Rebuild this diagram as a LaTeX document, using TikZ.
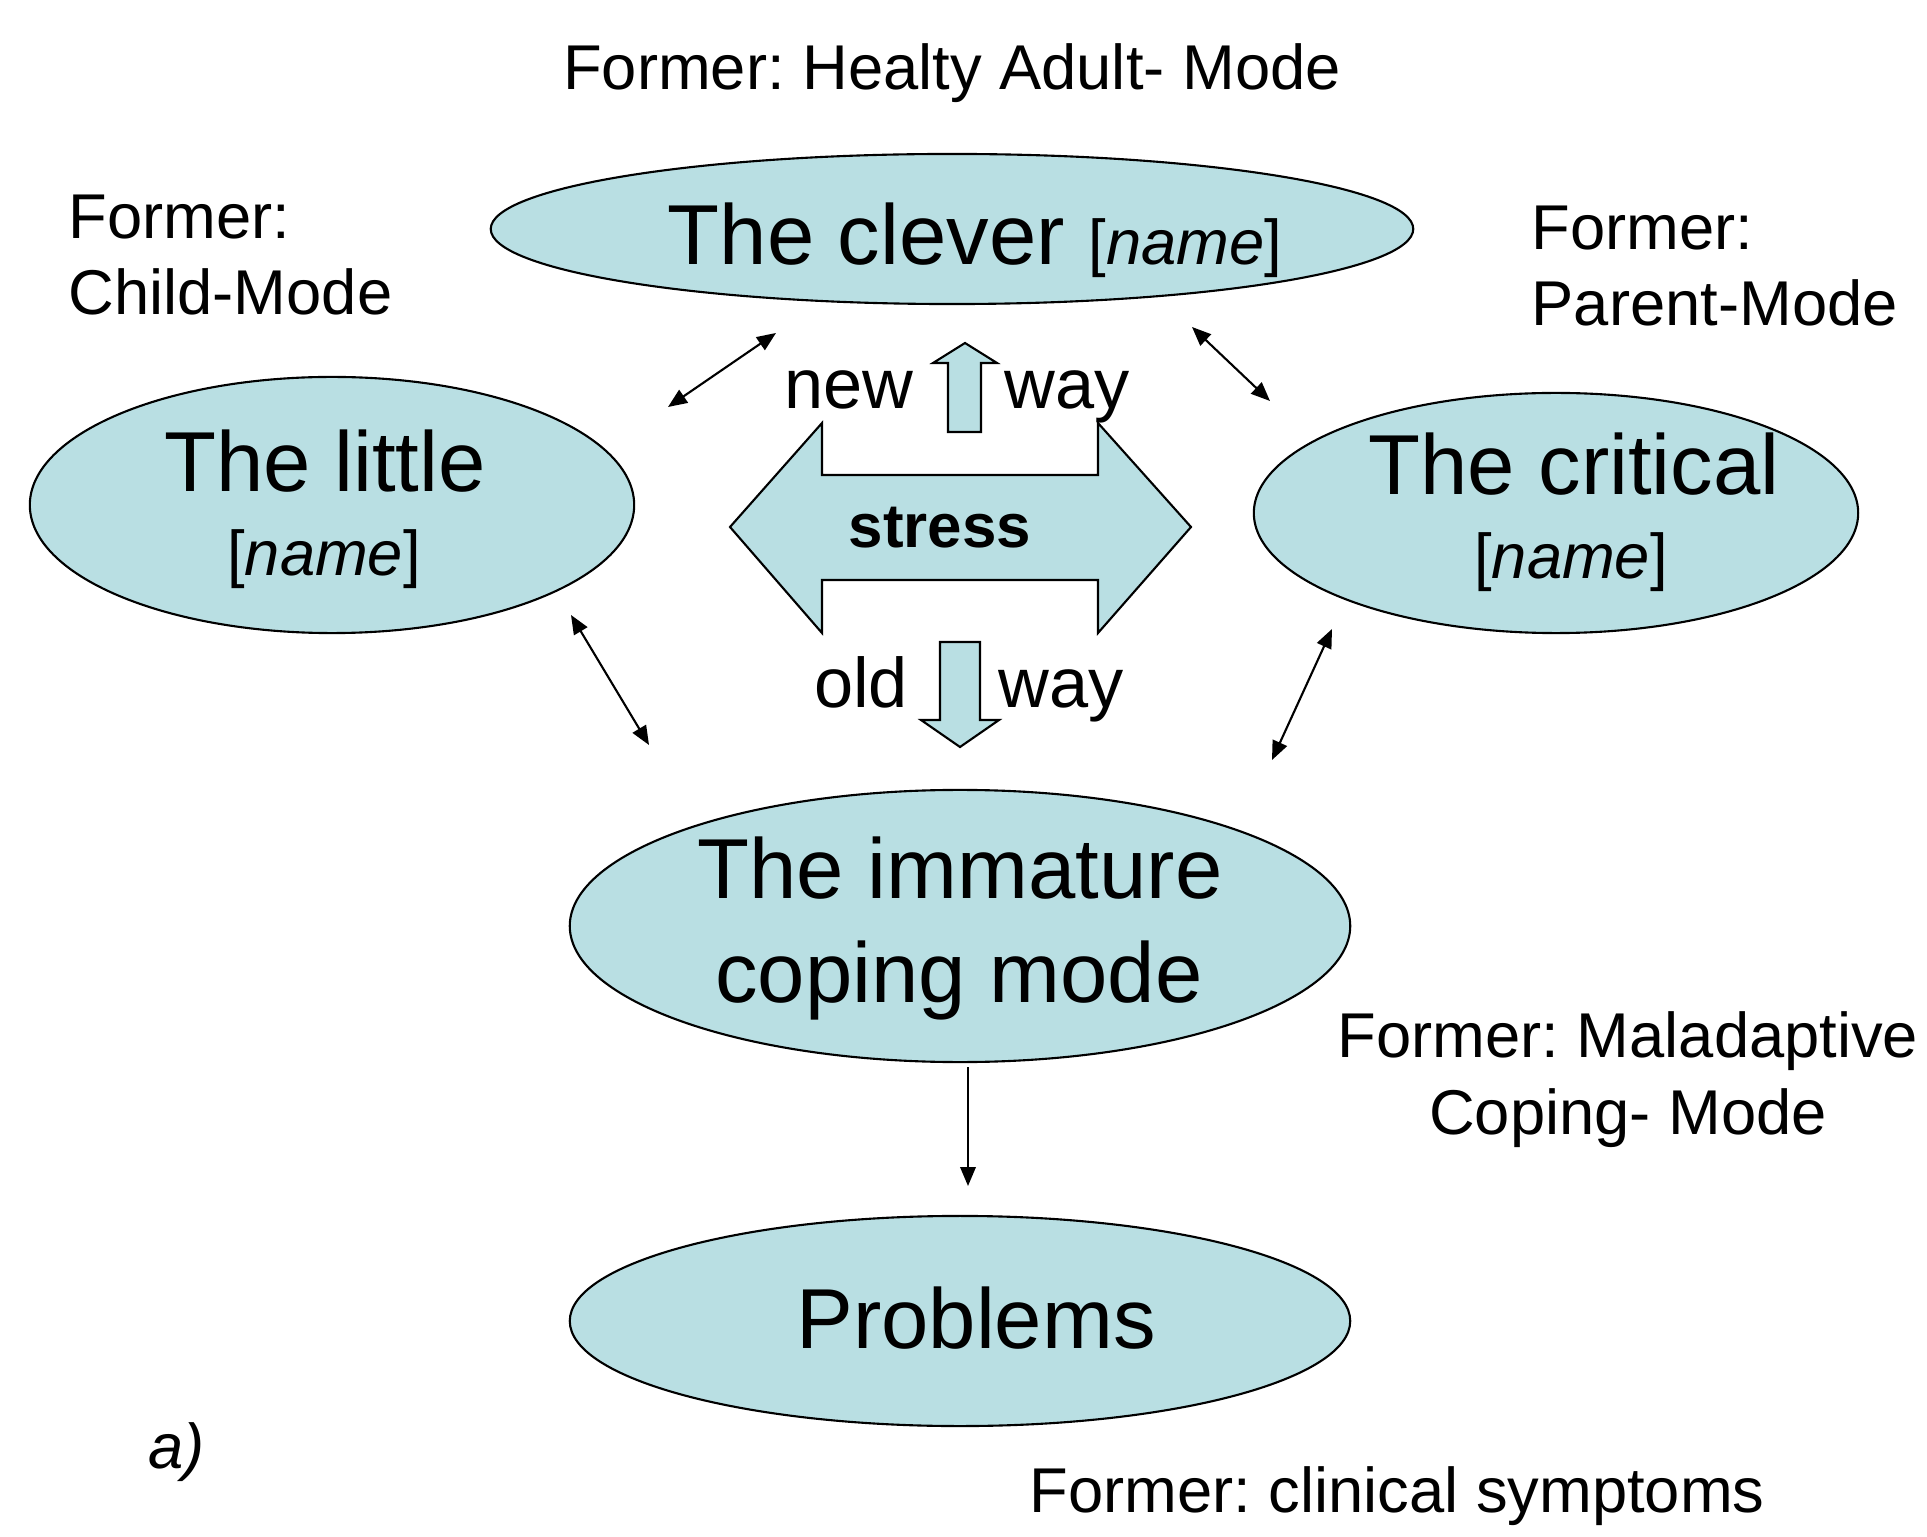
\documentclass[tikz,border=0pt]{standalone}
\usepackage{fontspec}
\setmainfont{Liberation Sans}
\usetikzlibrary{arrows.meta,shapes.geometric}
\definecolor{modefill}{RGB}{185,223,227}
\frenchspacing
\begin{document}
\frenchspacing
\begin{tikzpicture}[x=0.01cm,y=-0.01cm,
  mode/.style={ellipse,draw=black,line width=0.6pt,fill=modefill,inner sep=0pt},
  big/.style={font=\fontsize{24.2}{29.3}\selectfont,inner sep=0pt},
  small/.style={font=\fontsize{18}{21.8}\selectfont,inner sep=0pt},
  mid/.style={font=\fontsize{20}{24}\selectfont,inner sep=0pt},
  fat/.style={draw=black,line width=0.6pt,fill=modefill,line join=miter},
  tip/.tip={Triangle[length=5.4pt,width=4.4pt]},
  link/.style={line width=0.6pt,tip-tip},
  flow/.style={line width=0.6pt,-tip}
]
\useasboundingbox (0,0) rectangle (1927,1537);
\fill[white] (0,0) rectangle (1927,1537);

% ellipses
\node[mode,minimum width=9.22cm,minimum height=1.50cm] (clever) at (952,229) {};
\node[mode,minimum width=6.04cm,minimum height=2.56cm] (little) at (332,505) {};
\node[mode,minimum width=6.04cm,minimum height=2.40cm] (critical) at (1556,513) {};
\node[mode,minimum width=7.80cm,minimum height=2.72cm] (immature) at (960,926) {};
\node[mode,minimum width=7.80cm,minimum height=2.10cm] (problems) at (960,1321) {};

% ellipse texts
\node[big,anchor=base] (tclever) at (975,265) {The clever {\fontsize{18}{21.8}\selectfont[\textit{name}]}};
\node[big,anchor=base] (tlittle) at (325,492) {The little};
\node[small,anchor=base] (nlittle) at (324,576) {[\textit{name}]};
\node[big,anchor=base] (tcritical) at (1574,495) {The critical};
\node[small,anchor=base] (ncritical) at (1571,579) {[\textit{name}]};
\node[big,anchor=base] (timm1) at (960,899) {The immature};
\node[big,anchor=base] (timm2) at (959,1002) {coping mode};
\node[big,anchor=base] (tprob) at (976,1348) {Problems};

% side labels
\node[small,anchor=base] (lhealthy) at (952,90) {Former: Healty Adult- Mode};
\node[small,anchor=north west,align=left] (lchild) at (68,194) {Former:\\Child-Mode};
\node[small,anchor=north west,align=left] (lparent) at (1531,205) {Former:\\Parent-Mode};
\node[small,anchor=north,align=center] (lmal) at (1628,1011) {Former: Maladaptive\\Coping- Mode};
\node[small,anchor=base] (lclin) at (1397,1512) {Former: clinical symptoms};
\node[small,anchor=base west] (la) at (148,1468) {\textit{a)}};

% central arrows
\draw[fat] (730,527) -- (822,423) -- (822,475) -- (1098,475) -- (1098,423) -- (1191,527)
  -- (1098,633) -- (1098,580) -- (822,580) -- (822,633) -- cycle;
\draw[fat] (948,432) -- (948,363) -- (933,363) -- (965,343) -- (997,363) -- (981,363) -- (981,432) -- cycle;
\draw[fat] (940,642) -- (980,642) -- (980,720) -- (999,720) -- (960,747) -- (921,720) -- (940,720) -- cycle;
\node[anchor=base,inner sep=0pt,font=\fontsize{17.6}{21}\selectfont\bfseries] (tstress) at (940,548) {stress};
\node[mid,anchor=base] (tnew) at (849,409) {new};
\node[mid,anchor=base] (tway1) at (1067,409) {way};
\node[mid,anchor=base] (told) at (861,708) {old};
\node[mid,anchor=base] (tway2) at (1061,708) {way};

% connectors
\coordinate (a1s) at (668,407); \coordinate (a1e) at (776,333);
\coordinate (a2s) at (1192,327); \coordinate (a2e) at (1270,401);
\coordinate (a3s) at (571,615); \coordinate (a3e) at (649,745);
\coordinate (a4s) at (1332,629); \coordinate (a4e) at (1272,760);
\coordinate (a5s) at (968,1067); \coordinate (a5e) at (968,1186);
\draw[link] (a1s) -- (a1e);
\draw[link] (a2s) -- (a2e);
\draw[link] (a3s) -- (a3e);
\draw[link] (a4s) -- (a4e);
\draw[flow] (a5s) -- (a5e);
\end{tikzpicture}
\end{document}
